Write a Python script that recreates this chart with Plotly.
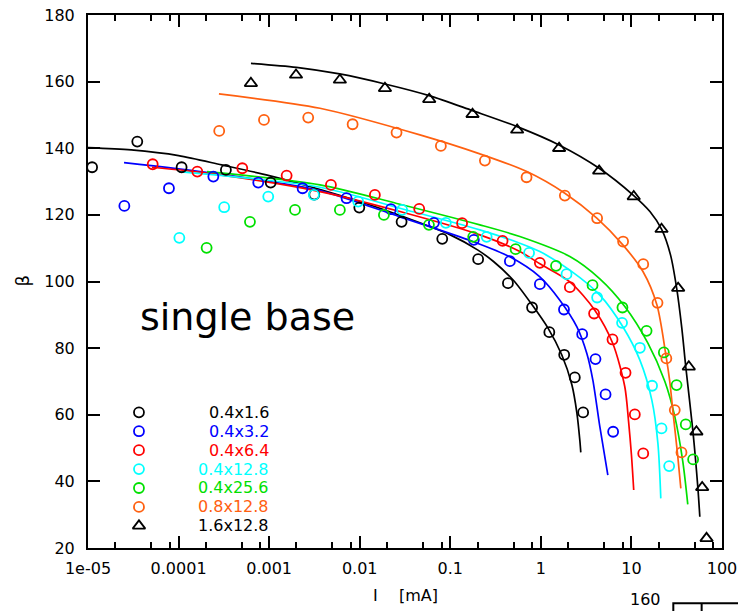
import plotly.graph_objects as go

# ---------------- data (I in mA, beta) ----------------
series_names = ["0.4x1.6", "0.4x3.2", "0.4x6.4", "0.4x12.8", "0.4x25.6", "0.8x12.8", "1.6x12.8"]
series_colors = ["#000000", "#0000ff", "#ff0000", "#00ffff", "#00e000", "#ff6010", "#000000"]
series_symbols = ["circle-open"] * 6 + ["triangle-up-open"]

# measured points
black_I = [1.11e-5, 3.5e-5, 1.08e-4, 3.33e-4, 1.04e-3, 3.15e-3, 9.9e-3, 0.029, 0.0815, 0.203, 0.433, 0.80, 1.24, 1.81, 2.37, 2.93]
black_b = [134.3, 142.0, 134.3, 133.5, 129.7, 126.1, 122.2, 117.9, 112.8, 106.7, 99.5, 92.2, 84.8, 78.0, 71.2, 60.7]
blue_I = [2.52e-5, 7.83e-5, 2.42e-4, 7.58e-4, 2.34e-3, 7.16e-3, 0.0221, 0.0659, 0.182, 0.455, 0.975, 1.80, 2.86, 4.01, 5.18, 6.28]
blue_b = [122.7, 128.0, 131.5, 129.7, 128.0, 125.0, 121.7, 117.6, 112.5, 106.1, 99.2, 91.6, 84.2, 76.7, 66.1, 54.9]
red_I = [5.18e-5, 1.61e-4, 5.05e-4, 1.56e-3, 4.81e-3, 0.0147, 0.0454, 0.135, 0.378, 0.975, 2.09, 3.87, 6.18, 8.61, 10.9, 13.5]
red_b = [135.2, 133.0, 134.0, 131.8, 129.0, 126.0, 121.8, 117.5, 112.2, 105.6, 98.3, 90.4, 82.6, 72.6, 60.1, 48.4]
cyan_I = [1.02e-4, 3.19e-4, 9.77e-4, 3.12e-3, 9.62e-3, 0.0294, 0.0893, 0.252, 0.741, 1.92, 4.18, 7.88, 12.4, 16.9, 21.5, 26.1]
cyan_b = [113.1, 122.3, 125.5, 126.0, 124.0, 121.5, 117.6, 113.4, 108.6, 102.2, 95.2, 87.6, 80.1, 68.7, 55.9, 44.6]
green_I = [2.04e-4, 6.14e-4, 1.93e-3, 6.04e-3, 0.0185, 0.0581, 0.179, 0.526, 1.47, 3.72, 7.96, 14.7, 22.8, 31.5, 39.8, 48.0]
green_b = [110.1, 117.9, 121.5, 121.5, 120.0, 117.0, 113.4, 109.7, 104.7, 98.9, 92.2, 85.2, 78.7, 68.9, 57.1, 46.6]
orange_I = [2.81e-4, 8.77e-4, 2.70e-3, 8.35e-3, 0.0255, 0.0787, 0.241, 0.695, 1.84, 4.18, 8.09, 13.5, 19.4, 24.3, 30.1, 35.7]
orange_b = [145.2, 148.5, 149.2, 147.2, 144.7, 140.7, 136.3, 131.3, 125.8, 119.0, 112.0, 105.2, 93.6, 76.9, 61.4, 48.7]
tri_I = [6.29e-4, 1.98e-3, 6.04e-3, 0.0190, 0.0585, 0.176, 0.547, 1.59, 4.40, 10.6, 21.5, 32.8, 43.0, 52.2, 60.4, 67.5]
tri_b = [159.5, 162.0, 160.5, 158.0, 154.7, 150.2, 145.5, 140.0, 133.2, 125.5, 115.7, 98.0, 74.4, 54.9, 38.2, 22.9]

# fitted curves
black_fit_I = [1.0e-5, 3.0e-5, 1.0e-4, 3.0e-4, 1.0e-3, 3.0e-3, 0.01, 0.03, 0.1, 0.2, 0.3, 0.5, 0.8, 1.2, 1.7, 2.2, 2.5, 2.7, 2.76]
black_fit_b = [140.2, 139.5, 137.8, 135.0, 131.8, 128.3, 124.0, 119.5, 114.0, 109.5, 106.0, 100.3, 93.0, 86.0, 78.0, 69.0, 60.5, 52.0, 48.7]
blue_fit_I = [2.5e-5, 2.40e-4, 3.64e-3, 2.78e-2, 0.1775, 0.455, 0.975, 1.62, 2.50, 3.22, 3.75, 4.48, 5.49]
blue_fit_b = [135.7, 132.5, 127.3, 119.4, 112.0, 107.4, 101.4, 94.4, 86.4, 78.4, 70.4, 56.4, 41.9]
red_fit_I = [5.08e-5, 2.40e-4, 3.64e-3, 2.78e-2, 0.212, 0.586, 0.975, 2.09, 3.94, 6.23, 8.45, 9.3, 10.0, 10.6]
red_fit_b = [134.3, 132.3, 127.0, 121.0, 114.0, 109.0, 105.3, 99.9, 91.4, 81.4, 68.4, 58.0, 48.0, 37.4]
cyan_fit_I = [1.01e-4, 3.64e-3, 2.78e-2, 0.212, 0.586, 0.975, 2.09, 4.48, 8.04, 12.4, 16.8, 19.6, 21.1]
cyan_fit_b = [133.0, 128.3, 122.0, 115.5, 111.5, 109.0, 103.4, 95.9, 86.4, 76.4, 64.4, 51.4, 34.9]
green_fit_I = [2.06e-4, 3.64e-3, 2.78e-2, 0.212, 0.586, 2.09, 4.48, 8.45, 15.2, 23.4, 30.1, 36.9, 41.9]
green_fit_b = [133.0, 129.0, 123.2, 117.0, 113.5, 107.5, 100.8, 92.5, 81.5, 70.0, 59.5, 46.0, 33.1]
orange_fit_I = [2.79e-4, 3.64e-3, 4.62e-2, 0.212, 0.70, 1.84, 4.15, 8.04, 13.4, 19.1, 24.0, 26.5, 28.6, 32.5, 35.1]
orange_fit_b = [156.3, 152.0, 144.0, 138.3, 133.0, 126.5, 119.0, 111.0, 103.0, 93.0, 78.0, 70.0, 61.4, 47.5, 37.9]
tri_fit_I = [6.3e-4, 2.0e-3, 6.0e-3, 0.019, 0.0585, 0.176, 0.547, 1.59, 4.40, 10.6, 16.0, 21.5, 27.0, 31.7, 36.0, 39.8, 47.6, 54.1, 56.9]
tri_fit_b = [165.5, 164.3, 162.3, 159.3, 155.8, 151.3, 146.5, 141.0, 134.0, 125.8, 121.0, 115.7, 108.0, 97.7, 86.0, 74.4, 55.4, 38.2, 29.4]

x_tickvals = [1e-5, 1e-4, 1e-3, 1e-2, 1e-1, 1, 10, 100]
x_ticktext = ["1e-05", "0.0001", "0.001", "0.01", "0.1", "1", "10", "100"]
x_minor = [m * 10 ** e for e in range(-5, 2) for m in (2, 5, 8)]
y_tickvals = [20, 40, 60, 80, 100, 120, 140, 160, 180]

points = [(black_I, black_b), (blue_I, blue_b), (red_I, red_b), (cyan_I, cyan_b),
          (green_I, green_b), (orange_I, orange_b), (tri_I, tri_b)]
fits = [(black_fit_I, black_fit_b), (blue_fit_I, blue_fit_b), (red_fit_I, red_fit_b),
        (cyan_fit_I, cyan_fit_b), (green_fit_I, green_fit_b), (orange_fit_I, orange_fit_b),
        (tri_fit_I, tri_fit_b)]

FONT = "DejaVu Sans"
fig = go.Figure()

for (fx, fy), col in zip(fits, series_colors):
    fig.add_trace(go.Scatter(x=fx, y=fy, mode="lines",
                             line=dict(color=col, width=1.7, shape="spline", smoothing=0.8),
                             showlegend=False, hoverinfo="skip"))

for (px_, py_), col, sym in zip(points, series_colors, series_symbols):
    size = 10 if sym == "circle-open" else 11
    fig.add_trace(go.Scatter(x=px_, y=py_, mode="markers",
                             marker=dict(symbol=sym, size=size, color=col,
                                         line=dict(color=col, width=1.8)),
                             showlegend=False, cliponaxis=False))

# custom legend (markers on a hidden overlay axis, labels as annotations)
leg_x = 0.0804
leg_y0 = 0.2546
leg_dy = 0.0355
for i, (name, col, sym) in enumerate(zip(series_names, series_colors, series_symbols)):
    yy = leg_y0 - i * leg_dy
    size = 10 if sym == "circle-open" else 11
    fig.add_trace(go.Scatter(x=[leg_x], y=[yy], xaxis="x2", yaxis="y2", mode="markers",
                             marker=dict(symbol=sym, size=size, color=col,
                                         line=dict(color=col, width=1.8)),
                             showlegend=False, hoverinfo="skip"))
    fig.add_annotation(x=0.2886, y=yy, xref="paper", yref="paper", text=name,
                       showarrow=False, xanchor="right", yanchor="middle",
                       font=dict(family=FONT, size=16, color=col))

fig.add_annotation(x=0.0789, y=0.4334, xref="paper", yref="paper", text="single base",
                   showarrow=False, xanchor="left", yanchor="middle",
                   font=dict(family=FONT, size=38, color="black"))

# axis titles
fig.add_annotation(x=(375 - 88) / 634, y=-0.0882, xref="paper", yref="paper", text="I",
                   showarrow=False, xanchor="center", yanchor="middle",
                   font=dict(family=FONT, size=16, color="black"))
fig.add_annotation(x=(418 - 88) / 634, y=-0.0882, xref="paper", yref="paper", text="[mA]",
                   showarrow=False, xanchor="center", yanchor="middle",
                   font=dict(family=FONT, size=16, color="black"))
fig.add_annotation(x=-0.1033, y=0.5009, xref="paper", yref="paper", text="β",
                   showarrow=False, xanchor="center", yanchor="middle", textangle=-90,
                   font=dict(family=FONT, size=18, color="black"))

# fragment of the next panel visible at the bottom-right
fig.add_annotation(x=0.9069, y=-0.0975, xref="paper", yref="paper", text="160",
                   showarrow=False, xanchor="right", yanchor="middle",
                   font=dict(family=FONT, size=16, color="black"))
fig.add_shape(type="rect", xref="paper", yref="paper", x0=0.9232, x1=1.2, y0=-0.1038, y1=-0.4,
              line=dict(color="black", width=2))
fig.add_shape(type="line", xref="paper", yref="paper", x0=0.9679, x1=0.9679, y0=-0.1038, y1=-0.4,
              line=dict(color="black", width=2))

fig.update_layout(
    width=738, height=611,
    margin=dict(l=88, r=16, t=15, b=63, autoexpand=False),
    paper_bgcolor="white", plot_bgcolor="white",
    showlegend=False,
    font=dict(family=FONT, size=16, color="black"),
    xaxis=dict(type="log", range=[-5, 2], tickvals=x_tickvals, ticktext=x_ticktext,
               ticks="inside", ticklen=12, tickwidth=2, tickcolor="black",
               showline=True, linewidth=2, linecolor="black", mirror="ticks",
               showgrid=False, zeroline=False, ticklabelstandoff=5, automargin=False,
               tickfont=dict(family=FONT, size=16, color="black"),
               minor=dict(tickvals=x_minor, ticks="inside", ticklen=6, tickwidth=2,
                          tickcolor="black", showgrid=False)),
    yaxis=dict(range=[20, 180], tickvals=y_tickvals,
               ticks="inside", ticklen=12, tickwidth=2, tickcolor="black",
               showline=True, linewidth=2, linecolor="black", mirror="ticks",
               showgrid=False, zeroline=False, ticklabelstandoff=8, automargin=False,
               tickfont=dict(family=FONT, size=16, color="black")),
    xaxis2=dict(overlaying="x", range=[0, 1], visible=False, domain=[0, 1]),
    yaxis2=dict(overlaying="y", range=[0, 1], visible=False, domain=[0, 1]),
)

fig.write_html("out.html")
